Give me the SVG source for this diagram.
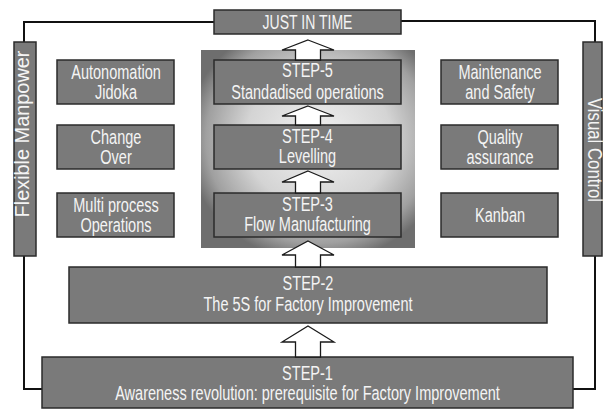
<svg xmlns="http://www.w3.org/2000/svg" width="604" height="410" viewBox="0 0 604 410">
<style>
.box{fill:#7a7a7a;stroke:#2b2b2b;stroke-width:1.5}
.t{font-family:"Liberation Sans",Arial,sans-serif;font-size:19.5px;fill:#f4f4f4;text-anchor:middle}
.arrow{fill:#ffffff;stroke:#1a1a1a;stroke-width:1.3;stroke-linejoin:miter}
.conn{fill:none;stroke:#111111;stroke-width:2}
</style>
<defs>
<radialGradient id="panelGrad" cx="0.55" cy="0.45" r="0.62">
<stop offset="0" stop-color="#f2f2f2"/>
<stop offset="0.55" stop-color="#d4d4d4"/>
<stop offset="0.85" stop-color="#a0a0a0"/>
<stop offset="1" stop-color="#6e6e6e"/>
</radialGradient>
</defs>
<rect width="604" height="410" fill="#ffffff"/>
<g id="connectors">
<polyline class="conn" points="214,22 24,22 24,42"/>
<polyline class="conn" points="24,256 24,389 42,389"/>
<polyline class="conn" points="401,21 595,21 595,42"/>
<polyline class="conn" points="595,256 595,389 573,389"/>
</g>
<g id="panel">
<rect x="201" y="50" width="214" height="198" fill="url(#panelGrad)"/>
</g>
<g id="just-in-time">
<rect class="box" x="214" y="10" width="187" height="24"/>
<g transform="translate(307.5,0) scale(0.72,1)"><text class="t" x="0" y="29">JUST IN TIME</text></g>
</g>
<g id="flexible-manpower">
<rect class="box" x="14" y="42" width="22" height="214"/>
<text class="t" transform="translate(29,134) rotate(-90) scale(1.02,1)" x="0" y="0">Flexible Manpower</text>
</g>
<g id="visual-control">
<rect class="box" x="583" y="42" width="19" height="214"/>
<text class="t" transform="translate(588,150) rotate(90) scale(0.86,1)" x="0" y="0">Visual Control</text>
</g>
<g id="step5">
<rect class="box" x="214" y="60" width="187" height="44"/>
<g transform="translate(307.5,0) scale(0.745,1)">
<text class="t" x="0" y="77.5">STEP-5</text>
<text class="t" x="0" y="99">Standadised operations</text>
</g>
</g>
<g id="step4">
<rect class="box" x="214" y="125" width="187" height="44"/>
<g transform="translate(307.5,0) scale(0.745,1)">
<text class="t" x="0" y="143">STEP-4</text>
<text class="t" x="0" y="163.5">Levelling</text>
</g>
</g>
<g id="step3">
<rect class="box" x="214" y="193" width="187" height="44"/>
<g transform="translate(307.5,0) scale(0.745,1)">
<text class="t" x="0" y="211">STEP-3</text>
<text class="t" x="0" y="231.5">Flow Manufacturing</text>
</g>
</g>
<g id="step2">
<rect class="box" x="69" y="267" width="478" height="56"/>
<g transform="translate(308,0) scale(0.745,1)">
<text class="t" x="0" y="290">STEP-2</text>
<text class="t" x="0" y="311">The 5S for Factory Improvement</text>
</g>
</g>
<g id="step1">
<rect class="box" x="42" y="357" width="531" height="51"/>
<g transform="translate(307.5,0) scale(0.745,1)">
<text class="t" x="0" y="380">STEP-1</text>
<text class="t" x="0" y="400.5">Awareness revolution: prerequisite for Factory Improvement</text>
</g>
</g>
<g id="autonomation">
<rect class="box" x="57" y="60" width="117" height="44"/>
<g transform="translate(116,0) scale(0.745,1)">
<text class="t" x="0" y="79">Autonomation</text>
<text class="t" x="0" y="99.5">Jidoka</text>
</g>
</g>
<g id="change-over">
<rect class="box" x="57" y="125" width="117" height="44"/>
<g transform="translate(116,0) scale(0.745,1)">
<text class="t" x="0" y="144">Change</text>
<text class="t" x="0" y="164.5">Over</text>
</g>
</g>
<g id="multi-process">
<rect class="box" x="57" y="193" width="117" height="44"/>
<g transform="translate(116,0) scale(0.745,1)">
<text class="t" x="0" y="212">Multi process</text>
<text class="t" x="0" y="232.5">Operations</text>
</g>
</g>
<g id="maintenance">
<rect class="box" x="441" y="60" width="117" height="44"/>
<g transform="translate(500,0) scale(0.745,1)">
<text class="t" x="0" y="79">Maintenance</text>
<text class="t" x="0" y="99.5">and Safety</text>
</g>
</g>
<g id="quality">
<rect class="box" x="441" y="125" width="117" height="44"/>
<g transform="translate(500,0) scale(0.745,1)">
<text class="t" x="0" y="144">Quality</text>
<text class="t" x="0" y="164.5">assurance</text>
</g>
</g>
<g id="kanban">
<rect class="box" x="441" y="193" width="117" height="44"/>
<g transform="translate(500,0) scale(0.745,1)">
<text class="t" x="0" y="222">Kanban</text>
</g>
</g>
<g id="arrows">
<path class="arrow" d="M308,40 L334,50 L320.5,50 L320.5,60 L295.5,60 L295.5,50 L282,50 Z"/>
<path class="arrow" d="M308,106 L334,116 L320.5,116 L320.5,125 L295.5,125 L295.5,116 L282,116 Z"/>
<path class="arrow" d="M308,171 L334,182 L320.5,182 L320.5,193 L295.5,193 L295.5,182 L282,182 Z"/>
<path class="arrow" d="M308,241 L334,255 L320.5,255 L320.5,267 L295.5,267 L295.5,255 L282,255 Z"/>
<path class="arrow" d="M308,326 L334,342 L320.5,342 L320.5,357 L295.5,357 L295.5,342 L282,342 Z"/>
</g>
</svg>
